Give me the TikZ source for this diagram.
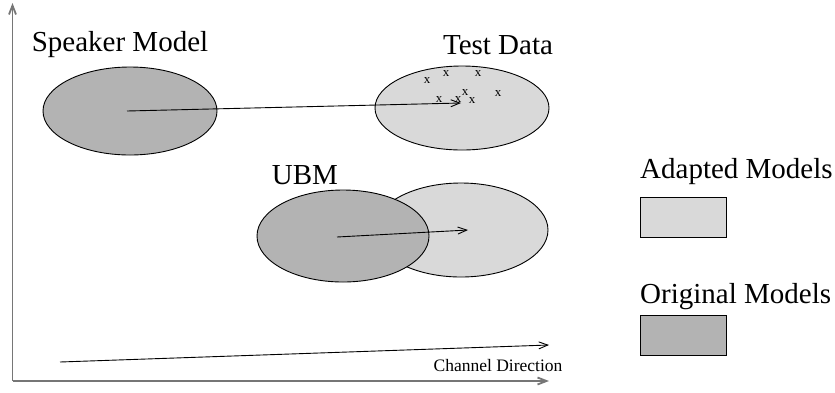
\documentclass[tikz,border=0pt]{standalone}
\usepackage{fontspec}
\setmainfont{Liberation Serif}
\usetikzlibrary{arrows.meta}
\definecolor{darkfill}{RGB}{179,179,179}
\definecolor{lightfill}{RGB}{217,217,217}
\definecolor{axisgray}{RGB}{118,118,118}
\begin{document}
\begin{tikzpicture}[x=1pt,y=-1pt,
  bigtext/.style={font=\fontsize{29}{32}\selectfont, inner sep=0pt},
  smalltext/.style={font=\fontsize{17.5}{20}\selectfont, inner sep=0pt},
  crosstext/.style={font=\fontsize{13}{14}\selectfont, inner sep=0pt},
  blob/.style={draw=black, line width=0.9pt},
  shiftarrow/.style={-{Straight Barb[length=9pt,width=7pt]}, line width=0.9pt},
  axis/.style={-{Straight Barb[length=9pt,width=7pt]}, draw=axisgray, line width=1.8pt},
  legendbox/.style={draw=black, line width=0.9pt, minimum width=86pt, minimum height=40pt, inner sep=0pt}]
\useasboundingbox (0,0) rectangle (835,392);

% axes
\coordinate (origin) at (12.5,381);
\coordinate (ytop) at (12.5,3);
\coordinate (xend) at (549,381);
\draw[axis] (origin) -- (ytop);
\draw[axis] (origin) -- (xend);

% speaker model and test data
\path[blob, fill=darkfill] (130,111) ellipse [x radius=87, y radius=44];
\path[blob, fill=lightfill] (462,108) ellipse [x radius=87, y radius=42];
\coordinate (spk) at (127,111);
\coordinate (tst) at (461,103);
\draw[shiftarrow] (spk) -- (tst);

\node[bigtext] (spklabel) at (120,45) {Speaker Model};
\node[bigtext] (tstlabel) at (498,45) {Test Data};

% test data points
\foreach \px/\py [count=\i] in {427/81, 446/74, 478/74, 439/100, 458/100, 465/93, 472/101, 498/94}
  \node[crosstext] (pt\i) at (\px,\py) {x};

% UBM and its adapted model
\path[blob, fill=lightfill] (461,230) ellipse [x radius=87, y radius=47];
\path[blob, fill=darkfill] (343,236) ellipse [x radius=86, y radius=46];
\coordinate (ubm) at (337,237);
\coordinate (adp) at (468,230);
\draw[shiftarrow] (ubm) -- (adp);
\node[bigtext] (ubmlabel) at (305,175) {UBM};

% channel direction
\coordinate (chs) at (60,362);
\coordinate (che) at (549,345);
\draw[shiftarrow] (chs) -- (che);
\node[smalltext] (chlabel) at (498,366) {Channel Direction};

% legend
\node[bigtext, anchor=west] (adlabel) at (640,172) {Adapted Models};
\node[legendbox, fill=lightfill] (adbox) at (683,217) {};
\node[bigtext, anchor=west] (orlabel) at (640,297) {Original Models};
\node[legendbox, fill=darkfill] (orbox) at (683,335.5) {};
\end{tikzpicture}
\end{document}
